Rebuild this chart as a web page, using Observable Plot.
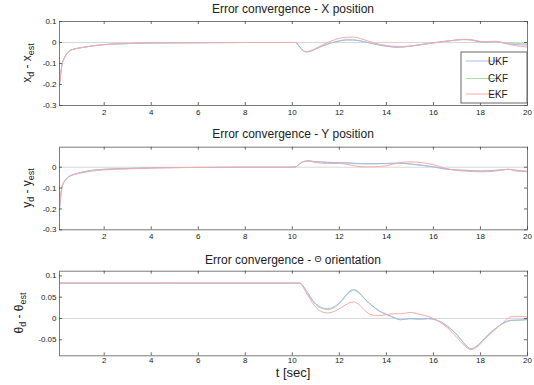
<!DOCTYPE html>
<html>
<head>
<meta charset="utf-8">
<script src="https://cdn.jsdelivr.net/npm/d3@7"></script>
<script src="https://cdn.jsdelivr.net/npm/@observablehq/plot@0.6"></script>
<style>
  html, body { margin: 0; padding: 0; background: #fff; }
  #wrap { position: relative; width: 534px; height: 385px; font-family: "Liberation Sans", Arial, sans-serif; color: #222; }
  .svgbox { position: absolute; left: 0; }
  .title { position: absolute; left: 59px; width: 468px; text-align: center; font-size: 12px; line-height: 14px; white-space: nowrap; }
  .ylab { position: absolute; font-size: 12px; line-height: 14px; white-space: nowrap; transform: translate(-50%, -50%) rotate(-90deg); }
  .ylab .s { font-size: 9px; vertical-align: -3px; }
  .xlab { position: absolute; left: 59px; width: 468px; text-align: center; font-size: 13px; line-height: 15px; }
</style>
</head>
<body>
<div id="wrap"></div>
<script>
// ---------- data ----------
const seriesNames = ["UKF", "CKF", "EKF"];
const seriesColors = ["#a9b6f2", "#a9dcaa", "#f6aaaa"];
const xTicks = [2, 4, 6, 8, 10, 12, 14, 16, 18, 20];

// X position error
const tX   = [0.1,0.15,0.2,0.3,0.4,0.5,0.7,1,1.5,2,3,4,6,8,10,10.15,10.3,10.45,10.6,10.8,11,11.3,11.6,12,12.3,12.6,13,13.5,14,14.5,15,15.5,16,16.5,17,17.3,17.6,18,18.3,18.6,19,19.5,20];
const xUKF = [-0.2,-0.15,-0.11,-0.075,-0.055,-0.042,-0.032,-0.025,-0.016,-0.01,-0.005,-0.002,-0.001,0,0,0,-0.02,-0.038,-0.045,-0.041,-0.031,-0.016,-0.004,0.007,0.012,0.012,0.005,-0.008,-0.018,-0.023,-0.018,-0.01,-0.002,0.005,0.012,0.014,0.012,0.002,0.001,0.004,-0.002,-0.01,-0.012];
const xCKF = [-0.2,-0.15,-0.11,-0.075,-0.055,-0.042,-0.032,-0.025,-0.016,-0.01,-0.005,-0.002,-0.001,0,0,0,-0.02,-0.037,-0.044,-0.04,-0.03,-0.015,-0.003,0.008,0.013,0.012,0.005,-0.007,-0.017,-0.022,-0.017,-0.009,-0.001,0.006,0.012,0.014,0.012,0.003,0.002,0.005,0,-0.005,-0.006];
const xEKF = [-0.2,-0.15,-0.11,-0.075,-0.055,-0.042,-0.032,-0.025,-0.016,-0.01,-0.005,-0.002,-0.001,0,0,0,-0.019,-0.036,-0.044,-0.038,-0.028,-0.01,0.005,0.02,0.025,0.026,0.015,-0.003,-0.014,-0.019,-0.017,-0.01,-0.002,0.006,0.012,0.015,0.014,0.005,0.004,0.006,-0.004,-0.015,-0.022];
const yTicksX = [-0.3, -0.2, -0.1, 0, 0.1];

// Y position error
const tY   = [0.1,0.15,0.2,0.3,0.4,0.5,0.7,1,1.5,2,3,4,6,8,10,10.15,10.3,10.5,10.7,11,11.5,12,12.5,13,13.5,14,14.5,15,15.5,16,16.5,17,17.5,18,18.5,19,19.2,19.5,20];
const yUKF = [-0.2,-0.14,-0.1,-0.07,-0.055,-0.045,-0.035,-0.025,-0.015,-0.01,-0.006,-0.003,-0.001,0,0,0.002,0.015,0.028,0.03,0.027,0.024,0.022,0.02,0.017,0.017,0.018,0.02,0.016,0.01,0.002,-0.008,-0.013,-0.015,-0.018,-0.016,-0.012,-0.01,-0.015,-0.02];
const yCKF = [-0.2,-0.14,-0.1,-0.07,-0.055,-0.045,-0.035,-0.025,-0.015,-0.01,-0.006,-0.003,-0.001,0,0,0.002,0.015,0.027,0.029,0.026,0.023,0.021,0.019,0.016,0.016,0.017,0.019,0.015,0.009,0.001,-0.009,-0.014,-0.016,-0.018,-0.016,-0.012,-0.01,-0.014,-0.019];
const yEKF = [-0.2,-0.14,-0.1,-0.07,-0.055,-0.045,-0.036,-0.028,-0.018,-0.013,-0.008,-0.004,-0.001,0,0,0.002,0.015,0.028,0.031,0.022,0.018,0.018,0.01,0.002,0.002,0.007,0.02,0.026,0.022,0.012,-0.005,-0.015,-0.02,-0.022,-0.02,-0.012,-0.01,-0.018,-0.022];
const yTicksY = [-0.3, -0.2, -0.1, 0];

// Theta orientation error
const tTh   = [0.1,5,10,10.3,10.6,10.9,11.2,11.5,11.8,12.1,12.4,12.6,12.8,13.1,13.4,13.7,14,14.3,14.6,15,15.4,15.8,16.2,16.6,17,17.3,17.6,17.9,18.2,18.6,19,19.3,19.6,20];
const thUKF = [0.083,0.083,0.083,0.083,0.065,0.04,0.027,0.023,0.028,0.043,0.062,0.068,0.063,0.045,0.03,0.018,0.01,0.003,-0.003,0,-0.001,0,-0.005,-0.018,-0.038,-0.058,-0.071,-0.062,-0.045,-0.025,-0.01,-0.004,-0.004,-0.002];
const thCKF = [0.083,0.083,0.083,0.083,0.064,0.038,0.025,0.021,0.026,0.041,0.06,0.066,0.061,0.044,0.029,0.017,0.009,0.002,-0.003,-0.001,-0.002,-0.001,-0.006,-0.019,-0.039,-0.059,-0.072,-0.063,-0.046,-0.026,-0.011,-0.005,-0.004,-0.003];
const thEKF = [0.083,0.083,0.083,0.083,0.06,0.033,0.017,0.013,0.017,0.026,0.036,0.039,0.034,0.018,0.008,0.007,0.009,0.011,0.011,0.014,0.01,0.004,-0.006,-0.022,-0.045,-0.063,-0.073,-0.065,-0.048,-0.027,-0.008,0.004,0.005,0.004];
const yTicksTh = [-0.05, 0, 0.05, 0.1];

// ---------- drawing ----------
const W = 534, ML = 59, MR = 7;
const frameW = W - ML - MR;
const wrap = document.getElementById("wrap");

function panel({top, height, mt, mb, ydomain, yticks, t, series, showLegend, xPad}) {
  const fh = height - mt - mb;
  const order = [1, 0, 2]; // CKF, UKF, EKF drawing order
  const lines = order.map(i => Plot.line(t.map((tt, k) => ({t: tt, v: series[i][k]})),
      {x: "t", y: "v", stroke: seriesColors[i], strokeWidth: 1, curve: "monotone-x"}));
  const tickColor = "#444";
  const chart = Plot.plot({
    width: W, height,
    marginLeft: ML, marginRight: MR, marginTop: mt, marginBottom: mb,
    x: {domain: [0.1, 20]},
    y: {domain: ydomain},
    style: {fontFamily: "'Liberation Sans', Arial, sans-serif", fontSize: "8px", color: "#222", background: "transparent", overflow: "visible"},
    marks: [
      Plot.ruleY([0], {stroke: "#d8d8d8", strokeWidth: 1}),
      ...lines,
      Plot.frame({stroke: "#7a7a7a"}),
      Plot.ruleX(xTicks, {x: d => d, insetTop: fh - 3, stroke: tickColor, strokeWidth: 0.8}),
      Plot.ruleX(xTicks, {x: d => d, insetBottom: fh - 3, stroke: tickColor, strokeWidth: 0.8}),
      Plot.ruleY(yticks, {y: d => d, insetRight: frameW - 3, stroke: tickColor, strokeWidth: 0.8}),
      Plot.ruleY(yticks, {y: d => d, insetLeft: frameW - 3, stroke: tickColor, strokeWidth: 0.8}),
      Plot.axisX(xTicks, {tickSize: 0, tickPadding: xPad, label: null, fill: "#222", tickFormat: d => String(d)}),
      Plot.axisY(yticks, {tickSize: 0, tickPadding: 3, label: null, fill: "#222", tickFormat: d => String(d)})
    ]
  });
  const box = document.createElement("div");
  box.className = "svgbox";
  box.style.top = top + "px";
  box.appendChild(chart);
  wrap.appendChild(box);

  if (showLegend) {
    const svg = d3.select(chart);
    const lx = 461, ly = 52, lw = 66, lh = 51;
    const g = svg.append("g");
    g.append("rect").attr("x", lx).attr("y", ly).attr("width", lw).attr("height", lh)
      .attr("fill", "#fff").attr("stroke", "#666").attr("stroke-width", 1);
    const ys = [61, 78.5, 94];
    const strong = ["#3050e0", "#20a030", "#e03030"];
    seriesNames.forEach((name, i) => {
      g.append("line").attr("x1", 466).attr("x2", 497).attr("y1", ys[i]).attr("y2", ys[i])
        .attr("stroke", seriesColors[i]).attr("stroke-width", 1);
      g.append("line").attr("x1", 495.5).attr("x2", 497.5).attr("y1", ys[i]).attr("y2", ys[i])
        .attr("stroke", strong[i]).attr("stroke-width", 1);
      g.append("text").attr("x", 498).attr("y", ys[i]).attr("dy", "0.35em")
        .attr("font-size", 10).attr("fill", "#222").text(name);
    });
  }
}

panel({top: 0, height: 125, mt: 21, mb: 20, ydomain: [-0.3, 0.1], yticks: yTicksX,
       t: tX, series: [xUKF, xCKF, xEKF], showLegend: true, xPad: 4});
panel({top: 125, height: 125, mt: 21.7, mb: 20.7, ydomain: [-0.3, 0.096], yticks: yTicksY,
       t: tY, series: [yUKF, yCKF, yEKF], showLegend: false, xPad: 4});
panel({top: 250, height: 135, mt: 20.7, mb: 29.7, ydomain: [-0.0877, 0.111], yticks: yTicksTh,
       t: tTh, series: [thUKF, thCKF, thEKF], showLegend: false, xPad: 1.5});

// ---------- text ----------
function addDiv(cls, html, styles) {
  const d = document.createElement("div");
  d.className = cls;
  d.innerHTML = html;
  Object.assign(d.style, styles);
  wrap.appendChild(d);
}
addDiv("title", "Error convergence - X position", {top: "2px"});
addDiv("title", "Error convergence - Y position", {top: "127px"});
addDiv("title", 'Error convergence - <span style="font-size:9px;vertical-align:2px">&Theta;</span> orientation', {top: "252px"});
addDiv("ylab", 'x<span class="s">d</span> - x<span class="s">est</span>', {left: "29px", top: "63px"});
addDiv("ylab", 'y<span class="s">d</span> - y<span class="s">est</span>', {left: "29px", top: "188px"});
addDiv("ylab", '&theta;<span class="s">d</span> - &theta;<span class="s">est</span>', {left: "21px", top: "313px"});
addDiv("xlab", "t [sec]", {top: "365px"});
</script>
</body>
</html>
